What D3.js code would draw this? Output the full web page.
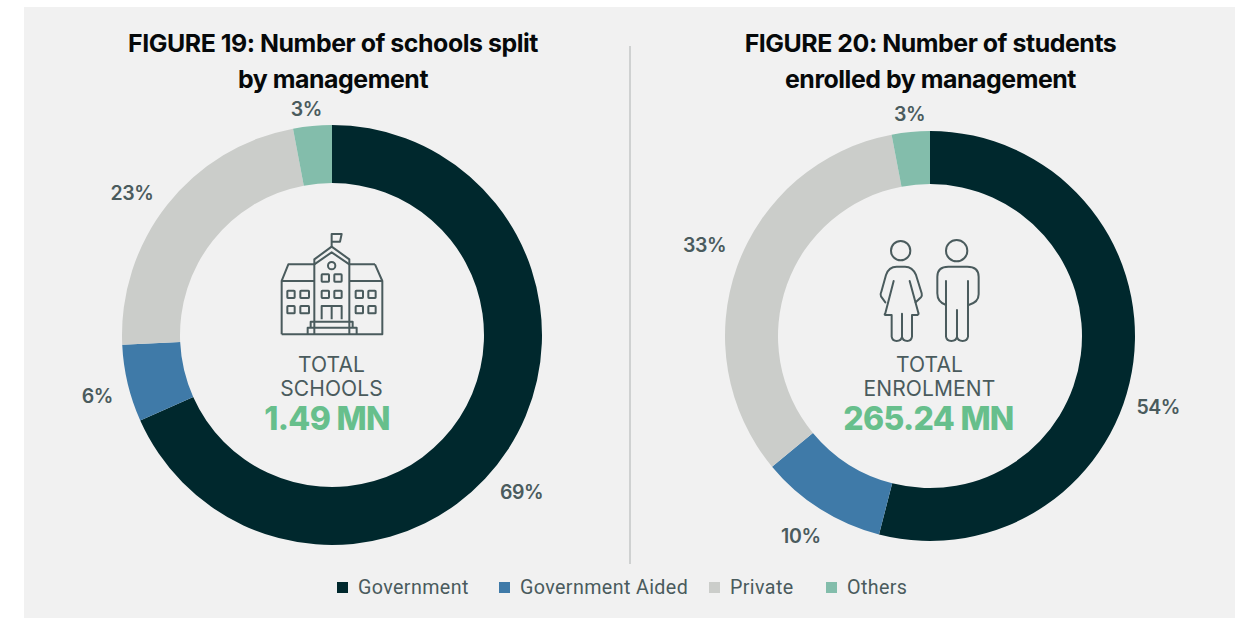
<!DOCTYPE html>
<html>
<head>
<meta charset="utf-8">
<script src="https://cdnjs.cloudflare.com/ajax/libs/d3/7.9.0/d3.min.js"></script>
<style>
  html, body { margin: 0; padding: 0; background: #ffffff; }
  svg { display: block; font-family: Inter, Roboto, sans-serif; }
</style>
</head>
<body>
<svg id="chart" width="1243" height="618"></svg>
<script>
// Management categories shared by both donuts
const categories = ["Government", "Government Aided", "Private", "Others"];
const categoryColors = ["#00282d", "#3f7aa8", "#cbcdca", "#83bdab"];

// Share of schools and of enrolment, in percent
const schoolShares = [69, 6, 23, 3];
const enrolmentShares = [54, 10, 33, 3];

const schoolTitle = ["FIGURE 19: Number of schools split", "by management"];
const enrolmentTitle = ["FIGURE 20: Number of students", "enrolled by management"];
const schoolCaption = ["TOTAL", "SCHOOLS"];
const enrolmentCaption = ["TOTAL", "ENROLMENT"];
const schoolTotal = "1.49 MN";
const enrolmentTotal = "265.24 MN";

const ink = "#4a5b5d";
const svg = d3.select("#chart");

// Panel behind everything, plus the divider between the figures
svg.append("rect").attr("x", 24).attr("y", 7).attr("width", 1211).attr("height", 611).attr("fill", "#f1f1f1");
svg.append("line").attr("x1", 630).attr("x2", 630).attr("y1", 46).attr("y2", 564)
  .attr("stroke", "#b9bcbc").attr("stroke-width", 1.2);

const color = d3.scaleOrdinal().domain(categories).range(categoryColors);
const pie = d3.pie().sort(null);

function donut(opts) {
  const g = svg.append("g").attr("transform", `translate(${opts.cx},${opts.cy})`);
  const arc = d3.arc().innerRadius(opts.inner).outerRadius(opts.outer);
  const slices = pie(opts.values);

  g.selectAll("path.slice").data(slices).join("path")
    .attr("class", "slice")
    .attr("d", arc)
    .attr("fill", (d, i) => color(categories[i]));

  // Percentage labels sit just outside the ring
  const labelArc = d3.arc().innerRadius(opts.labelR).outerRadius(opts.labelR);
  g.selectAll("text.pct").data(slices).join("text")
    .attr("class", "pct")
    .attr("transform", (d, i) => {
      const [x, y] = labelArc.centroid(d);
      const [dx, dy] = opts.nudge[i];
      return `translate(${x + dx},${y + dy})`;
    })
    .attr("text-anchor", "middle")
    .attr("dominant-baseline", "central")
    .attr("fill", ink)
    .attr("font-size", 19.5)
    .attr("font-weight", 600)
    .attr("letter-spacing", -0.4)
    .text((d, i) => opts.values[i] + "%");

  // Figure title
  svg.append("g").selectAll("text").data(opts.title).join("text")
    .attr("x", opts.titleX)
    .attr("y", (d, i) => 52 + i * 36)
    .attr("text-anchor", "middle")
    .attr("fill", "#06090a")
    .attr("font-size", 24.9)
    .attr("font-weight", 700)
    .attr("letter-spacing", -0.45)
    .text(d => d);

  // Caption and total in the hole
  svg.append("g").selectAll("text").data(opts.caption).join("text")
    .attr("x", opts.cx - 0.5)
    .attr("y", (d, i) => 372 + i * 24)
    .attr("text-anchor", "middle")
    .attr("fill", ink)
    .attr("font-size", 21)
    .attr("font-weight", 400)
    .attr("letter-spacing", 0.1)
    .text(d => d);
  svg.append("text")
    .attr("x", opts.totalX)
    .attr("y", 430)
    .attr("text-anchor", "middle")
    .attr("fill", "#67bf8c")
    .attr("font-size", 32)
    .attr("font-weight", 800)
    .attr("letter-spacing", -0.7)
    .text(opts.total);
}

donut({
  cx: 332, cy: 335, outer: 210, inner: 152, labelR: 232,
  values: schoolShares, title: schoolTitle, titleX: 333,
  caption: schoolCaption, total: schoolTotal, totalX: 327,
  nudge: [[-5, 31], [-9, 7], [-18, 2], [-4, 5]]
});
donut({
  cx: 930, cy: 336, outer: 205, inner: 152, labelR: 228,
  values: enrolmentShares, title: enrolmentTitle, titleX: 930.5,
  caption: enrolmentCaption, total: enrolmentTotal, totalX: 928.5,
  nudge: [[2, 42], [-7, 7], [-11, -14], [1, 5]]
});

// Line icon of a school building
const school = svg.append("g")
  .attr("transform", "translate(260,220) scale(0.3333)")
  .attr("fill", "none").attr("stroke", ink).attr("stroke-width", 6).attr("stroke-linejoin", "round");
[
  "M65 343V183L85 133H163M345 133H268M345 133L367 183V343H65",
  "M65 183H163M268 183H367",
  "M163 343V118L215 80L268 118V343",
  "M163 133L215 97L268 133",
  "M215 80V42H245L240 65H215",
  "M185 298V258H245V298M215 258V298",
  "M152 322V305H278V322",
  "M143 343V323H290V343"
].forEach(d => school.append("path").attr("d", d));
school.append("circle").attr("cx", 215).attr("cy", 137).attr("r", 11);
[
  [185, 163], [223, 163], [185, 212], [223, 212],
  [82, 212], [121, 212], [82, 258], [121, 258],
  [287, 212], [325, 212], [287, 258], [325, 258]
].forEach(([x, y]) => school.append("rect")
  .attr("x", x).attr("y", y).attr("width", x === 121 ? 26 : 22).attr("height", 22).attr("rx", 2));

// Line icon of a woman and a man
const people = svg.append("g")
  .attr("transform", "translate(860,225) scale(0.3333)")
  .attr("fill", "none").attr("stroke", ink).attr("stroke-width", 6)
  .attr("stroke-linejoin", "round").attr("stroke-linecap", "round");
people.append("circle").attr("cx", 122).attr("cy", 77).attr("r", 29);
people.append("circle").attr("cx", 290).attr("cy", 77).attr("r", 32);
[
  "M101 168L76 265Q72 269 76 270H95V335Q97 348 110 348Q124 348 126 335V266M126 335Q128 348 142 348Q154 348 156 335V270H172Q177 268 175 263L149 168",
  "M76 232L63 214Q60 208 64 200L78 150Q86 125 110 125H135Q158 125 168 150L185 205Q187 213 183 217L167 232",
  "M258 168V335Q260 348 274 348Q289 348 291 335V255M291 335Q293 348 308 348Q322 348 324 335V168",
  "M258 240Q232 232 232 205V155Q232 125 265 125H322Q356 125 356 155V208Q356 232 326 240"
].forEach(d => people.append("path").attr("d", d));

// Legend along the bottom of the panel
const legendItems = [
  { x: 337, label: categories[0] },
  { x: 499, label: categories[1] },
  { x: 709, label: categories[2] },
  { x: 826, label: categories[3] }
];
const legend = svg.append("g").selectAll("g").data(legendItems).join("g")
  .attr("transform", d => `translate(${d.x},0)`);
legend.append("rect").attr("y", 582).attr("width", 11).attr("height", 11)
  .attr("fill", d => color(d.label));
legend.append("text").attr("x", 21).attr("y", 594)
  .attr("fill", ink).attr("font-size", 19.7).attr("font-family", "Roboto, sans-serif")
  .attr("letter-spacing", 0.38)
  .text(d => d.label);
</script>
</body>
</html>
